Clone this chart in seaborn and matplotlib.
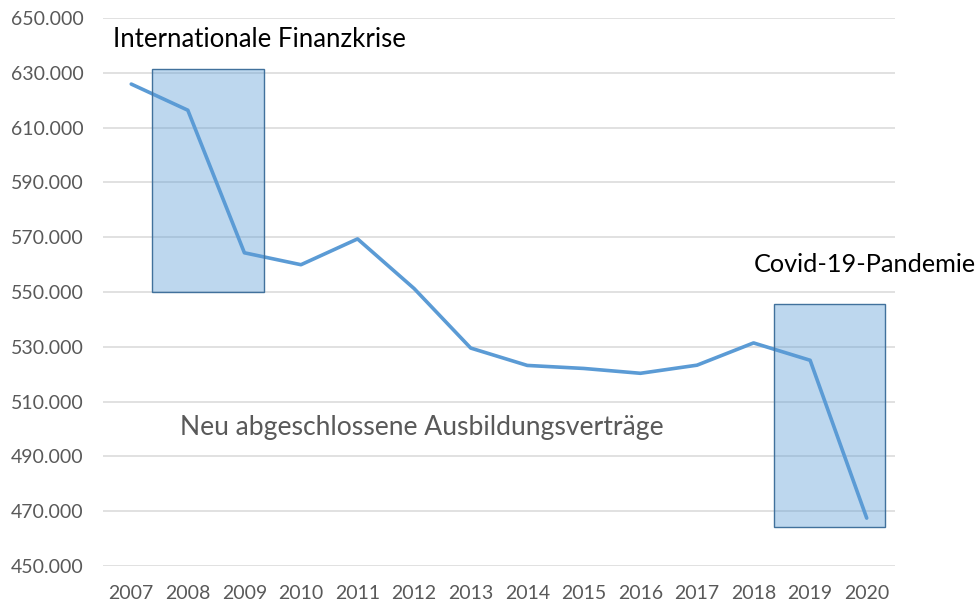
import matplotlib
import matplotlib.pyplot as plt
import pandas as pd
import seaborn as sns
from matplotlib.patches import Rectangle
from matplotlib.ticker import FuncFormatter

matplotlib.use("Agg")

years = [2007, 2008, 2009, 2010, 2011, 2012, 2013, 2014, 2015, 2016, 2017, 2018, 2019, 2020]
contracts = [625885, 616342, 564307, 559960, 569379, 551258, 529542,
             523201, 522094, 520332, 523290, 531414, 525081, 467484]

# highlighted crisis periods
crisis_labels = ["Internationale Finanzkrise", "Covid-19-Pandemie"]
crisis_x = [(2007.37, 2009.34), (2018.37, 2020.32)]
crisis_y = [(550000, 631500), (464200, 545600)]

LINE_BLUE = "#5B9BD5"
GREY = "#595959"

sns.set_theme(style="white")
plt.rcParams["font.family"] = ["Lato", "DejaVu Sans"]

df = pd.DataFrame({"year": years, "contracts": contracts})

fig = plt.figure(figsize=(9.76, 6.02), dpi=100)
ax = fig.add_axes([0.1055, 0.0598, 0.8115, 0.9103])

sns.lineplot(data=df, x="year", y="contracts", ax=ax, color=LINE_BLUE,
             linewidth=2.6, zorder=2)

for (x0, x1), (y0, y1) in zip(crisis_x, crisis_y):
    ax.add_patch(Rectangle((x0, y0), x1 - x0, y1 - y0, facecolor=(0.357, 0.608, 0.835, 0.4),
                           edgecolor="#41719C", linewidth=1.0, zorder=3))

ax.text(2006.68, 642300, crisis_labels[0], fontsize=18.5, color="black",
        va="center", ha="left")
ax.text(2018.0, 559900, crisis_labels[1], fontsize=18.2, color="black",
        va="center", ha="left", clip_on=False)
ax.text(2007.86, 500400, "Neu abgeschlossene Ausbildungsverträge", fontsize=19.1,
        color=GREY, va="center", ha="left")

ax.set_xlim(2006.5, 2020.5)
ax.set_ylim(450000, 650000)
ax.set_xticks(years)
ax.set_yticks(range(450000, 650001, 20000))
ax.yaxis.set_major_formatter(FuncFormatter(lambda v, _: f"{int(v):,}".replace(",", ".")))
ax.tick_params(axis="both", length=0, labelsize=14, labelcolor=GREY, pad=14)
ax.grid(axis="y", color="#D9D9D9", linewidth=1.1)
ax.set_axisbelow(True)
ax.set_xlabel("")
ax.set_ylabel("")
sns.despine(ax=ax, left=True, bottom=True)

fig.savefig("out.png", dpi=100)
